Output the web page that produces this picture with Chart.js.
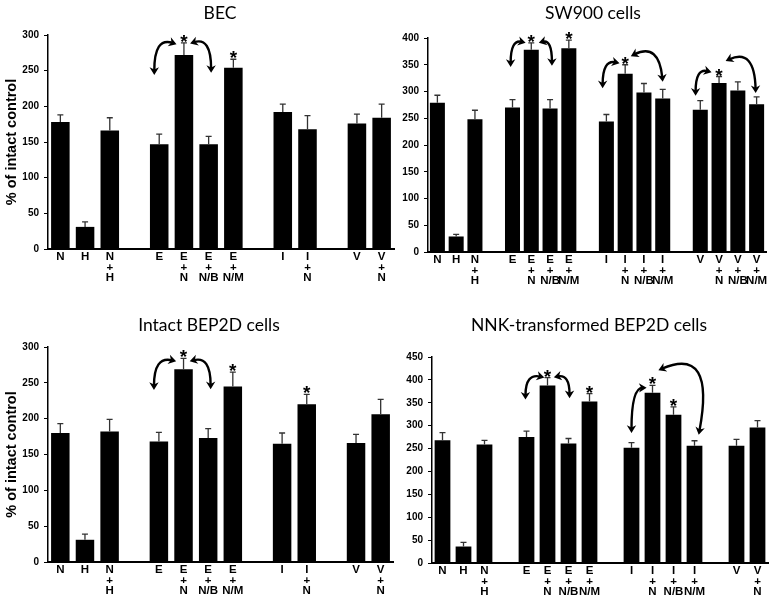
<!DOCTYPE html>
<html>
<head>
<meta charset="utf-8">
<script src="https://cdn.jsdelivr.net/npm/chart.js@4"></script>
<style>
  body { margin: 0; background: #fff; width: 778px; height: 600px; overflow: hidden; position: relative; }
  canvas { position: absolute; }
</style>
</head>
<body>
<canvas id="chartBEC" width="400" height="292" style="left:0;top:0"></canvas>
<canvas id="chartSW900" width="393" height="292" style="left:385px;top:0"></canvas>
<canvas id="chartIntact" width="400" height="300" style="left:0;top:300px"></canvas>
<canvas id="chartNNK" width="393" height="300" style="left:385px;top:300px"></canvas>
<script>
// categories ('' = empty slot between groups)
const shortLabels = [
  ['N'], ['H'], ['N', '+', 'H'], '',
  ['E'], ['E', '+', 'N'], ['E', '+', 'N/B'], ['E', '+', 'N/M'], '',
  ['I'], ['I', '+', 'N'], '',
  ['V'], ['V', '+', 'N']
];
const longLabels = [
  ['N'], ['H'], ['N', '+', 'H'], '',
  ['E'], ['E', '+', 'N'], ['E', '+', 'N/B'], ['E', '+', 'N/M'], '',
  ['I'], ['I', '+', 'N'], ['I', '+', 'N/B'], ['I', '+', 'N/M'], '',
  ['V'], ['V', '+', 'N'], ['V', '+', 'N/B'], ['V', '+', 'N/M']
];
const nnkLabels = [
  ['N'], ['H'], ['N', '+', 'H'], '',
  ['E'], ['E', '+', 'N'], ['E', '+', 'N/B'], ['E', '+', 'N/M'], '',
  ['I'], ['I', '+', 'N'], ['I', '+', 'N/B'], ['I', '+', 'N/M'], '',
  ['V'], ['V', '+', 'N']
];

// BEC
const becMeans = [178, 31, 166, null, 147, 272, 147, 254, null, 192, 168, null, 176, 184];
const becErr   = [10, 7, 18, null, 14, 17, 11, 12, null, 11, 19, null, 13, 19];
const becSig   = [5, 7];

// SW900 cells
const swMeans = [279, 29, 248, null, 270, 378, 268, 381, null, 244, 333, 298, 287, null, 266, 316, 302, 276];
const swErr   = [14, 4, 17, null, 15, 13, 17, 15, null, 13, 17, 17, 17, null, 17, 12, 16, 14];
const swSig   = [5, 7, 10, 15];

// Intact BEP2D cells
const intMeans = [180, 31, 182, null, 168, 269, 173, 245, null, 165, 220, null, 166, 206];
const intErr   = [13, 8, 17, null, 13, 15, 13, 20, null, 15, 14, null, 12, 21];
const intSig   = [5, 7, 10];

// NNK-transformed BEP2D cells
const nnkMeans = [268, 36, 259, null, 275, 388, 261, 353, null, 252, 372, 324, 256, null, 256, 296];
const nnkErr   = [17, 9, 9, null, 13, 17, 11, 17, null, 11, 16, 17, 11, null, 14, 15];
const nnkSig   = [5, 7, 10, 11];

// comparison arrows: [startIndex, startValue, ctrlIndex, ctrlValue, endIndex, endValue]
const becArrows = [[3.8, 244, 3.8, 298, 4.7, 287], [5.25, 288, 6.1, 298, 6.1, 247]];
const swArrows = [
  [3.9, 346, 3.9, 398, 4.7, 391], [5.4, 391, 6.1, 398, 6.1, 348],
  [8.8, 306, 8.8, 360, 9.7, 353], [10.3, 366, 11.8, 392, 12, 318],
  [13.75, 292, 13.75, 344, 14.6, 336], [15.35, 357, 16.9, 382, 16.95, 297]
];
const intArrows = [[3.8, 240, 3.8, 288, 4.7, 280], [5.25, 280, 6.1, 288, 6.1, 241]];
const nnkArrows = [
  [3.95, 357, 3.95, 415, 4.85, 405], [5.3, 406, 6.05, 413, 6.05, 360],
  [9.0, 284, 9.0, 382, 9.72, 383], [10.28, 421, 13.0, 475, 12.2, 280]
];

const FONT = '"Liberation Sans", Arial, sans-serif';
const TITLE_FONT = 'Lato, "Liberation Sans", sans-serif';

function drawHead(ctx, x, y, ang) {
  const s = 9;
  ctx.beginPath();
  ctx.moveTo(x, y);
  ctx.lineTo(x - s * Math.cos(ang - 0.55), y - s * Math.sin(ang - 0.55));
  ctx.lineTo(x - s * 0.6 * Math.cos(ang), y - s * 0.6 * Math.sin(ang));
  ctx.lineTo(x - s * Math.cos(ang + 0.55), y - s * Math.sin(ang + 0.55));
  ctx.closePath();
  ctx.fill();
}

const extras = {
  id: 'extras',
  afterDatasetsDraw(chart, args, opts) {
    const ctx = chart.ctx;
    const xs = chart.scales.x, ys = chart.scales.y;
    const means = chart.data.datasets[0].data;
    ctx.save();
    // error bars (upper only)
    ctx.strokeStyle = '#333';
    ctx.lineWidth = 1.3;
    opts.errors.forEach((e, i) => {
      if (means[i] == null) return;
      const px = xs.getPixelForValue(i);
      const top = ys.getPixelForValue(means[i] + e);
      const base = ys.getPixelForValue(means[i]);
      ctx.beginPath();
      ctx.moveTo(px, base);
      ctx.lineTo(px, top);
      ctx.moveTo(px - 3, top);
      ctx.lineTo(px + 3, top);
      ctx.stroke();
    });
    // significance stars
    ctx.fillStyle = '#000';
    ctx.font = 'bold 19px ' + FONT;
    ctx.textAlign = 'center';
    ctx.textBaseline = 'alphabetic';
    opts.sig.forEach(i => {
      const px = xs.getPixelForValue(i);
      const top = ys.getPixelForValue(means[i] + opts.errors[i]);
      ctx.fillText('*', px, top + 5);
    });
    // curved double arrows
    ctx.strokeStyle = '#000';
    ctx.lineWidth = 2.4;
    opts.arrows.forEach(a => {
      const x1 = xs.getPixelForValue(a[0]), y1 = ys.getPixelForValue(a[1]);
      const cx = xs.getPixelForValue(a[2]), cy = ys.getPixelForValue(a[3]);
      const x2 = xs.getPixelForValue(a[4]), y2 = ys.getPixelForValue(a[5]);
      const a1 = Math.atan2(y1 - cy, x1 - cx), a2 = Math.atan2(y2 - cy, x2 - cx);
      ctx.beginPath();
      ctx.moveTo(x1 - 4 * Math.cos(a1), y1 - 4 * Math.sin(a1));
      ctx.quadraticCurveTo(cx, cy, x2 - 4 * Math.cos(a2), y2 - 4 * Math.sin(a2));
      ctx.stroke();
      drawHead(ctx, x1, y1, a1);
      drawHead(ctx, x2, y2, a2);
    });
    ctx.restore();
  },
  afterDraw(chart, args, opts) {
    const ctx = chart.ctx;
    ctx.save();
    ctx.fillStyle = '#000';
    ctx.font = '17.5px ' + TITLE_FONT;
    ctx.textAlign = 'center';
    ctx.textBaseline = 'middle';
    ctx.fillText(opts.title, opts.titleX, opts.titleY);
    ctx.restore();
  }
};

function makePanel(id, p) {
  return new Chart(document.getElementById(id), {
    type: 'bar',
    data: {
      labels: p.labels,
      datasets: [{
        data: p.means,
        backgroundColor: '#000',
        borderWidth: 0,
        barPercentage: p.barPct,
        categoryPercentage: 1
      }]
    },
    options: {
      responsive: false,
      animation: false,
      layout: { padding: { top: p.padTop, right: p.padRight, left: 0, bottom: 0 } },
      plugins: {
        legend: { display: false },
        tooltip: { enabled: false },
        extras: {
          errors: p.errors, sig: p.sig, arrows: p.arrows,
          title: p.title, titleX: p.titleX, titleY: p.titleY
        }
      },
      scales: {
        x: {
          grid: { display: false, drawTicks: false },
          border: { display: true, color: '#000', width: 2 },
          ticks: {
            color: '#000', padding: 3, autoSkip: false, maxRotation: 0,
            font: { family: FONT, size: 11.5, weight: 'bold', lineHeight: 0.9 }
          },
          afterFit: s => { s.height = p.xHeight; }
        },
        y: {
          min: 0,
          max: p.yMax,
          grid: { drawOnChartArea: false, drawTicks: true, tickLength: 4, color: '#000' },
          border: { display: true, color: '#000', width: 1.5 },
          ticks: {
            stepSize: 50, color: '#000', padding: 5,
            font: { family: FONT, size: 10, weight: 'bold' }
          },
          title: {
            display: p.yTitle,
            text: '% of intact control',
            color: '#000',
            padding: { top: 3, bottom: 0 },
            font: { family: FONT, size: 14.5, weight: 'bold' }
          },
          afterFit: s => { s.width = p.yWidth; }
        }
      }
    },
    plugins: [extras]
  });
}

makePanel('chartBEC', {
  labels: shortLabels, means: becMeans, errors: becErr, sig: becSig, arrows: becArrows,
  yMax: 300, barPct: 0.75, title: 'BEC', titleX: 220, titleY: 13,
  padTop: 35, padRight: 6, yWidth: 48, xHeight: 43, yTitle: true
});
makePanel('chartSW900', {
  labels: longLabels, means: swMeans, errors: swErr, sig: swSig, arrows: swArrows,
  yMax: 400, barPct: 0.8, title: 'SW900 cells', titleX: 208, titleY: 13,
  padTop: 38, padRight: 12, yWidth: 43, xHeight: 40, yTitle: false
});
makePanel('chartIntact', {
  labels: shortLabels, means: intMeans, errors: intErr, sig: intSig, arrows: intArrows,
  yMax: 300, barPct: 0.75, title: 'Intact BEP2D cells', titleX: 209, titleY: 25,
  padTop: 47, padRight: 7, yWidth: 48, xHeight: 38, yTitle: true
});
makePanel('chartNNK', {
  labels: nnkLabels, means: nnkMeans, errors: nnkErr, sig: nnkSig, arrows: nnkArrows,
  yMax: 450, barPct: 0.75, title: 'NNK-transformed BEP2D cells', titleX: 204, titleY: 25,
  padTop: 57, padRight: 10, yWidth: 47, xHeight: 37, yTitle: false
});
</script>
</body>
</html>
